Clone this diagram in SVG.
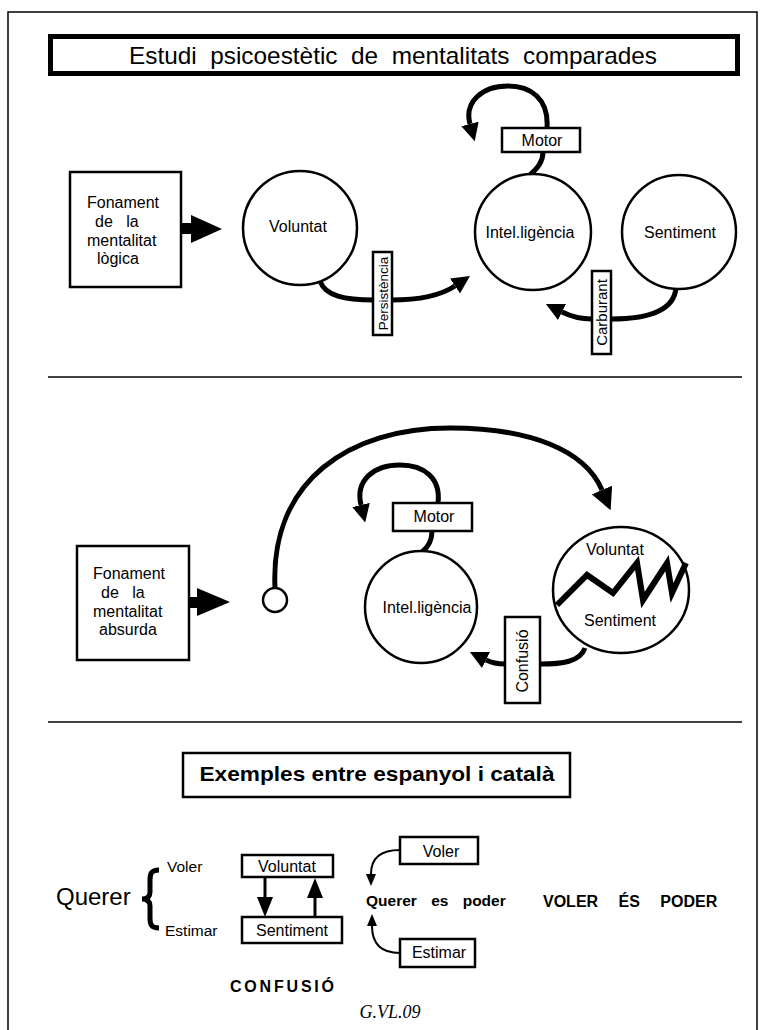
<svg xmlns="http://www.w3.org/2000/svg" width="761" height="1030" viewBox="0 0 761 1030">
<defs>
<style>
.t{font-family:"Liberation Sans",Arial,sans-serif;fill:#000}
.box{fill:#fff;stroke:#000;stroke-width:2.5}
.circ{fill:#fff;stroke:#000;stroke-width:2.5}
.con{fill:none;stroke:#000;stroke-width:5}
.thin{fill:none;stroke:#000;stroke-width:2}
.div{stroke:#000;stroke-width:1.5}
.pre{white-space:pre}
</style>
<marker id="ah" viewBox="0 0 10 10" refX="0" refY="5" markerWidth="18" markerHeight="18" markerUnits="userSpaceOnUse" orient="auto"><path d="M0,0 L10,5 L0,10 z" fill="#000"/></marker>
<marker id="ahL" viewBox="0 0 10 10" refX="0" refY="5" markerWidth="22" markerHeight="22" markerUnits="userSpaceOnUse" orient="auto"><path d="M0,0 L10,5 L0,10 z" fill="#000"/></marker>
<marker id="ahS" viewBox="0 0 12 10" refX="0" refY="5" markerWidth="12" markerHeight="10" markerUnits="userSpaceOnUse" orient="auto"><path d="M0,0 L12,5 L0,10 z" fill="#000"/></marker>
</defs>
<rect x="0" y="0" width="761" height="1030" fill="#fff"/>
<rect x="8" y="12" width="749" height="1030" fill="none" stroke="#000" stroke-width="1.5"/>

<g id="title">
<rect x="50.5" y="36.5" width="687" height="37" fill="#fff" stroke="#000" stroke-width="5"/>
<text class="t pre" x="393" y="64" font-size="24" text-anchor="middle" textLength="528" lengthAdjust="spacingAndGlyphs">Estudi  psicoestètic  de  mentalitats  comparades</text>
</g>

<g id="connectors">
<!-- section 1 -->
<rect x="181" y="223" width="11" height="11" fill="#000"/>
<polygon points="191,215 222,229 191,243" fill="#000"/>
<path class="con" d="M320,281 C325,296 345,300 374,300"/>
<path class="con" d="M391,300 C420,300 440,296 455,286" marker-end="url(#ah)"/>
<path class="con" d="M543,152 C543,163 536,169 530,175"/>
<path class="con" d="M547,128 C549,98 530,86 508,86 C482,86 464,102 470,124" marker-end="url(#ah)"/>
<path class="con" d="M676,288 C674,310 650,319 611,319"/>
<path class="con" d="M592,319 C580,319 570,316 562,312" marker-end="url(#ah)"/>
<!-- section 2 -->
<rect x="189" y="597" width="9" height="11" fill="#000"/>
<polygon points="197,588 230,602 197,616" fill="#000"/>
<path class="con" d="M275,588 C270,480 350,428 450,428 C530,428 585,450 602,490" stroke-width="5.5" marker-end="url(#ahL)"/>
<path class="con" d="M438,503 C441,478 424,465 400,465 C374,465 355,480 361,505" marker-end="url(#ah)"/>
<path class="con" d="M432,531 C432,542 427,548 422,552"/>
<path class="con" d="M585,648 C580,662 562,664 540,664"/>
<path class="con" d="M505,664 C496,664 490,662 486,660" marker-end="url(#ah)"/>
<!-- section 3 -->
<line x1="265" y1="877" x2="265" y2="899" stroke="#000" stroke-width="3"/>
<polygon points="257,897 273,897 265,917" fill="#000"/>
<line x1="315" y1="917" x2="315" y2="896" stroke="#000" stroke-width="3"/>
<polygon points="307,898 323,898 315,878" fill="#000"/>
<path class="thin" d="M400,850 C380,850 371,858 371,874" marker-end="url(#ahS)"/>
<path class="thin" d="M400,953 C381,953 372,944 372,926" marker-end="url(#ahS)"/>
</g>

<g id="fonament-logica">
<rect class="box" x="70" y="172" width="111" height="115"/>
<text class="t pre" font-size="16"><tspan x="87" y="208">Fonament</tspan><tspan x="95" y="227">de   la</tspan><tspan x="87" y="246">mentalitat</tspan><tspan x="97" y="264">lògica</tspan></text>
</g>
<g id="voluntat1">
<circle class="circ" cx="300" cy="228" r="57"/>
<text class="t" x="298" y="232" font-size="16" text-anchor="middle">Voluntat</text>
</g>
<g id="persistencia">
<rect class="box" x="373" y="252" width="19" height="83"/>
<text class="t" font-size="13.5" text-anchor="middle" transform="translate(387.5,293.5) rotate(-90)">Persistència</text>
</g>
<g id="intel1">
<circle class="circ" cx="533" cy="232" r="58"/>
<text class="t" x="530" y="238" font-size="16" text-anchor="middle">Intel.ligència</text>
</g>
<g id="motor1">
<rect class="box" x="502" y="128" width="78" height="24"/>
<text class="t" x="542" y="146" font-size="16" text-anchor="middle">Motor</text>
</g>
<g id="sentiment1">
<circle class="circ" cx="679" cy="232" r="57"/>
<text class="t" x="680" y="238" font-size="16" text-anchor="middle">Sentiment</text>
</g>
<g id="carburant">
<rect class="box" x="592" y="271" width="19" height="83"/>
<text class="t" font-size="15" text-anchor="middle" transform="translate(607,312.5) rotate(-90)">Carburant</text>
</g>

<line class="div" x1="48" y1="377" x2="742" y2="377"/>

<g id="fonament-absurda">
<rect class="box" x="77" y="546" width="112" height="114"/>
<text class="t pre" font-size="16"><tspan x="93" y="579">Fonament</tspan><tspan x="101" y="598">de   la</tspan><tspan x="93" y="617">mentalitat</tspan><tspan x="99" y="635">absurda</tspan></text>
</g>
<g id="origen">
<circle cx="275" cy="600" r="12" fill="#fff" stroke="#000" stroke-width="2.5"/>
</g>
<g id="motor2">
<rect class="box" x="393" y="503" width="79" height="28"/>
<text class="t" x="434" y="522" font-size="16" text-anchor="middle">Motor</text>
</g>
<g id="intel2">
<circle class="circ" cx="421" cy="607" r="56"/>
<text class="t" x="427" y="613" font-size="16" text-anchor="middle">Intel.ligència</text>
</g>
<g id="voluntat-sentiment">
<ellipse class="circ" cx="621" cy="590" rx="68" ry="63"/>
<polyline points="557,605 587,575 613,593 637,563 643,600 667,563 672,593 686,563" fill="none" stroke="#000" stroke-width="6"/>
<text class="t" x="615" y="555" font-size="16" text-anchor="middle">Voluntat</text>
<text class="t" x="620" y="626" font-size="16" text-anchor="middle">Sentiment</text>
</g>
<g id="confusio">
<rect class="box" x="505" y="617" width="35" height="86"/>
<text class="t" font-size="16" text-anchor="middle" transform="translate(528,661) rotate(-90)">Confusió</text>
</g>

<line class="div" x1="48" y1="722" x2="742" y2="722"/>

<g id="title2">
<rect class="box" x="183" y="753" width="387" height="44"/>
<text class="t" x="377" y="781" font-size="21" font-weight="bold" text-anchor="middle" textLength="355" lengthAdjust="spacingAndGlyphs">Exemples entre espanyol i català</text>
</g>
<g id="querer">
<text class="t" x="56" y="905" font-size="24">Querer</text>
<path d="M159,870 C151,870 150,874 150,880 L150,892 C150,897 147,899 142,899 C147,899 150,901 150,906 L150,918 C150,924 151,928 159,928" fill="none" stroke="#000" stroke-width="5"/>
<text class="t" x="167" y="872" font-size="15.5">Voler</text>
<text class="t" x="165" y="936" font-size="15.5">Estimar</text>
</g>
<g id="voluntat3">
<rect class="box" x="242" y="855" width="91" height="22"/>
<text class="t" x="287" y="872" font-size="16" text-anchor="middle">Voluntat</text>
</g>
<g id="sentiment3">
<rect class="box" x="242" y="917" width="100" height="26"/>
<text class="t" x="292" y="936" font-size="16" text-anchor="middle">Sentiment</text>
</g>
<g id="confusio-label">
<text class="t" x="230" y="992" font-size="16" font-weight="bold" letter-spacing="2.8">CONFUSIÓ</text>
</g>
<g id="voler-box">
<rect class="box" x="400" y="837" width="78" height="27"/>
<text class="t" x="441" y="857" font-size="16" text-anchor="middle">Voler</text>
</g>
<g id="estimar-box">
<rect class="box" x="400" y="939" width="75" height="28"/>
<text class="t" x="439" y="958" font-size="16" text-anchor="middle">Estimar</text>
</g>
<g id="querer-es-poder">
<text class="t" x="366" y="906" font-size="15.5" font-weight="bold" word-spacing="10">Querer es poder</text>
</g>
<g id="voler-es-poder">
<text class="t" x="543" y="907" font-size="16" font-weight="bold" word-spacing="16">VOLER ÉS PODER</text>
</g>
<g id="signatura">
<text x="390" y="1018" font-family="Liberation Serif, Times New Roman, serif" font-style="italic" font-size="18" text-anchor="middle">G.VL.09</text>
</g>
</svg>
